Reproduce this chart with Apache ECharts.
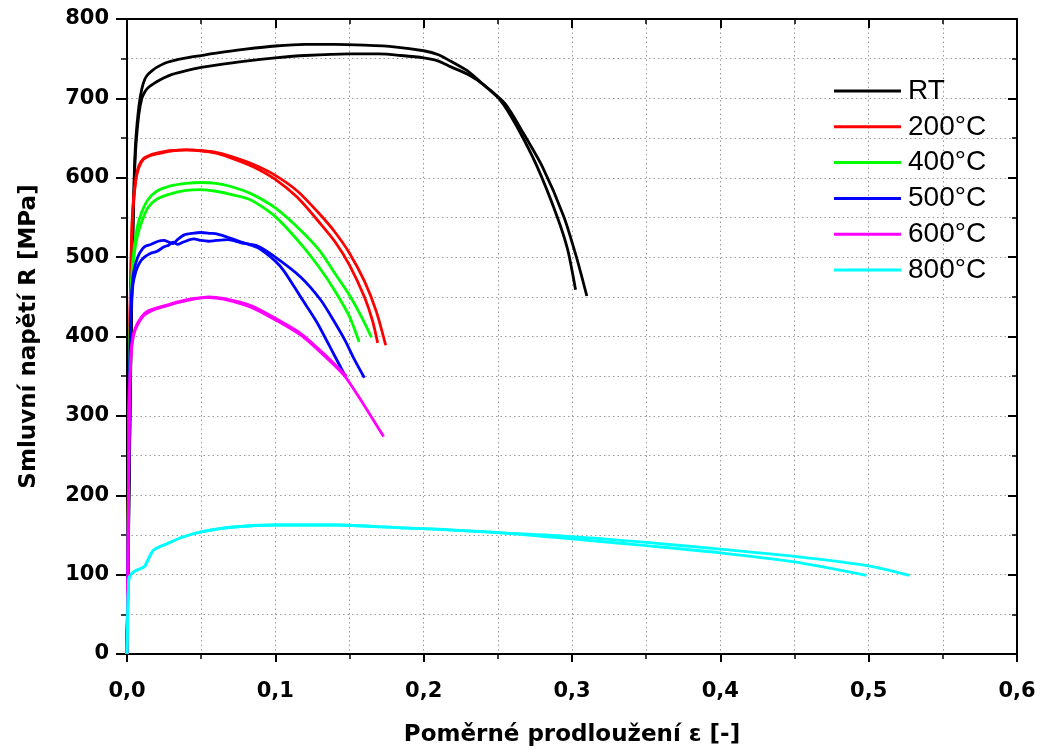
<!DOCTYPE html>
<html>
<head>
<meta charset="utf-8">
<script src="https://cdn.jsdelivr.net/npm/echarts@6/dist/echarts.min.js"></script>
<style>html,body{margin:0;padding:0;background:#fff}#c{width:1050px;height:753px}</style>
</head>
<body>
<div id="c"></div>
<script>
// ---- data (strain ε [-], stress R [MPa]) ----
const legendNames = ['RT', '200°C', '400°C', '500°C', '600°C', '800°C'];
const xTickLabels = ['0,0', '0,1', '0,2', '0,3', '0,4', '0,5', '0,6'];
const yTickLabels = ['0', '100', '200', '300', '400', '500', '600', '700', '800'];

const rtA_x = [0,0.001,0.002,0.003,0.004,0.005,0.006,0.008,0.010,0.012,0.014,0.017,0.02,0.025,0.03,0.04,0.05,0.06,0.08,0.1,0.12,0.14,0.16,0.18,0.2,0.21,0.218,0.23,0.2405,0.252,0.263,0.2765,0.29,0.297,0.3024];
const rtA_y = [0,150,300,430,540,610,650,690,712,724,730,735,739,744,747,751,754,757,762,766,768,768,767,765,760,755,747,734,717,697,664,614,551,510,459];
const rtB_x = [0,0.001,0.002,0.003,0.004,0.005,0.006,0.008,0.010,0.012,0.0135,0.016,0.02,0.025,0.03,0.04,0.05,0.06,0.08,0.1,0.12,0.15,0.17,0.185,0.2,0.21,0.218,0.23,0.2405,0.255,0.266,0.28,0.2945,0.303,0.310];
const rtB_y = [0,140,290,420,530,600,640,680,700,708,712,716,721,726,730,735,739,742,747,751,754,756,756,754,751,747,740,730,717,693,660,614,551,500,451];

const t200A_x = [0,0.0005,0.001,0.0015,0.002,0.003,0.004,0.006,0.008,0.011,0.016,0.02,0.025,0.03,0.04,0.05,0.06,0.07,0.085,0.1,0.115,0.13,0.14,0.15,0.16,0.1655,0.169];
const t200A_y = [0,100,230,340,430,520,565,600,615,624,629,631,633,634,635,634,631,625,614,598,575,543,520,490,450,420,392];
const t200B_x = [0,0.0005,0.001,0.0015,0.002,0.003,0.004,0.006,0.008,0.011,0.016,0.02,0.025,0.03,0.04,0.05,0.06,0.07,0.085,0.1,0.115,0.13,0.14,0.15,0.16,0.168,0.1744];
const t200B_y = [0,95,220,330,420,512,560,597,613,623,628,630,632,634,635,634,632,627,617,603,583,554,532,505,470,432,389];

const t400A_x = [0,0.0005,0.001,0.0015,0.002,0.003,0.005,0.0072,0.01,0.014,0.02,0.03,0.04,0.05,0.06,0.07,0.0835,0.1,0.117,0.13,0.14,0.15,0.158,0.1648];
const t400A_y = [0,100,220,320,400,470,515,540,557,572,583,590,593,594,593,589,580,562,534,508,480,452,425,399];
const t400B_x = [0,0.0005,0.001,0.0015,0.002,0.003,0.005,0.0072,0.01,0.014,0.02,0.03,0.04,0.05,0.06,0.07,0.0835,0.1,0.117,0.13,0.14,0.15,0.1565];
const t400B_y = [0,95,210,310,390,460,505,528,545,562,573,580,584,585,583,579,572,551,517,486,458,425,393];

const t500A_x = [0,0.0005,0.001,0.0015,0.002,0.0027,0.004,0.006,0.0085,0.0117,0.016,0.021,0.025,0.028,0.031,0.034,0.0386,0.044,0.05,0.056,0.061,0.068,0.077,0.088,0.1,0.106,0.117,0.128,0.1396,0.1464];
const t500A_y = [0,90,200,290,370,440,475,493,505,513,516,520,521,519,517,522,528,530,531,530,529,525,519,512,495,482,450,418,377,353];
const t500B_x = [0,0.0005,0.001,0.0015,0.002,0.0027,0.004,0.006,0.0085,0.0117,0.016,0.02,0.025,0.028,0.031,0.034,0.038,0.045,0.05,0.055,0.06,0.068,0.077,0.088,0.1,0.117,0.1306,0.14,0.147,0.153,0.16];
const t500B_y = [0,80,190,280,360,430,465,482,493,500,505,507,513,515,519,516,519,523,521,520,521,522,518,514,500,475,446,418,395,372,348];

const t600A_x = [0,0.0005,0.001,0.0016,0.0027,0.004,0.0055,0.0072,0.0095,0.0117,0.015,0.02,0.0274,0.035,0.045,0.055,0.065,0.0835,0.1,0.117,0.134,0.1464,0.1576,0.165,0.173];
const t600A_y = [0,90,200,320,380,400,410,417,424,429,433,436,440,444,448,449,447,437,421,402,374,351,320,298,274];
const t600B_x = [0,0.0005,0.001,0.0016,0.0027,0.004,0.0055,0.0072,0.0095,0.0117,0.015,0.02,0.0274,0.035,0.045,0.055,0.065,0.0835,0.1,0.117,0.134,0.148];
const t600B_y = [0,85,190,310,375,397,408,415,422,427,431,435,439,443,447,450,448,439,423,404,376,350];

const t800A_x = [0,0.0003,0.0006,0.001,0.0016,0.005,0.0117,0.014,0.018,0.027,0.0386,0.05,0.072,0.1,0.14,0.185,0.2,0.25,0.3,0.35,0.4,0.45,0.4986];
const t800A_y = [0,30,60,85,97,104,110,118,131,139,148,154,160,162.5,162.5,159,158,153,145,136.5,127.5,116,99];
const t800B_x = [0,0.0003,0.0006,0.001,0.0016,0.005,0.0117,0.014,0.018,0.027,0.0386,0.05,0.072,0.1,0.14,0.185,0.2,0.25,0.3,0.35,0.4,0.45,0.5,0.5276];
const t800B_y = [0,30,60,85,97,104,110,118,131,139,148,154,160,162.5,162.5,159,158,153,148,140.6,132,123,111,99];

const colors = {'RT':'#000000','200°C':'#ff0000','400°C':'#00ff00','500°C':'#0000ff','600°C':'#ff00ff','800°C':'#00ffff'};

const curves = [
  ['RT', rtA_x, rtA_y], ['RT', rtB_x, rtB_y],
  ['200°C', t200A_x, t200A_y], ['200°C', t200B_x, t200B_y],
  ['400°C', t400A_x, t400A_y], ['400°C', t400B_x, t400B_y],
  ['500°C', t500A_x, t500A_y], ['500°C', t500B_x, t500B_y],
  ['600°C', t600A_x, t600A_y], ['600°C', t600B_x, t600B_y],
  ['800°C', t800A_x, t800A_y], ['800°C', t800B_x, t800B_y]
];

const tickFont = {fontFamily:'DejaVu Sans', fontWeight:'bold', fontSize:21, color:'#000'};
const nameFont = {fontFamily:'DejaVu Sans', fontWeight:'bold', fontSize:23, color:'#000'};
const gridLine = {show:true, lineStyle:{color:'#9a9a9a', width:1, type:[1.5,3]}};

const chart = echarts.init(document.getElementById('c'), null, {renderer:'canvas'});
chart.setOption({
  animation:false,
  backgroundColor:'#fff',
  grid:{left:127, right:33, top:19, bottom:99},
  legend:{
    orient:'vertical', left:829, top:72, itemWidth:67, itemHeight:3, icon:'rect', itemGap:7.8,
    data:legendNames,
    textStyle:{fontFamily:'Liberation Sans', fontSize:28, lineHeight:28, color:'#000', padding:[0,0,0,2]}
  },
  xAxis:[
    {type:'value', min:0, max:0.6, interval:0.1, position:'bottom',
     name:'Poměrné prodloužení ε [-]', nameLocation:'middle', nameGap:70, nameTextStyle:nameFont,
     axisLine:{show:true, onZero:false, lineStyle:{color:'#000', width:2}},
     axisTick:{show:true, inside:false, length:8, lineStyle:{color:'#000', width:2}},
     minorTick:{show:true, splitNumber:2, length:5, lineStyle:{color:'#000', width:1.5}},
     splitLine:gridLine, minorSplitLine:gridLine,
     axisLabel:Object.assign({margin:27, formatter:(v)=>xTickLabels[Math.round(v*10)]}, tickFont)},
    {type:'value', min:0, max:0.6, interval:0.1, position:'top',
     axisLine:{show:true, onZero:false, lineStyle:{color:'#000', width:2}},
     axisTick:{show:true, inside:true, length:9, lineStyle:{color:'#000', width:2}},
     minorTick:{show:true, splitNumber:2, length:5, lineStyle:{color:'#000', width:1.5}},
     splitLine:{show:false}, axisLabel:{show:false}}
  ],
  yAxis:[
    {type:'value', min:0, max:800, interval:100, position:'left',
     name:'Smluvní napětí R [MPa]', nameLocation:'middle', nameGap:86, nameRotate:90, nameTextStyle:nameFont,
     axisLine:{show:true, onZero:false, lineStyle:{color:'#000', width:2}},
     axisTick:{show:true, inside:false, length:11, lineStyle:{color:'#000', width:2}},
     minorTick:{show:true, splitNumber:2, length:6, lineStyle:{color:'#000', width:1.5}},
     splitLine:gridLine, minorSplitLine:gridLine,
     axisLabel:Object.assign({margin:18, formatter:(v)=>yTickLabels[Math.round(v/100)]}, tickFont)},
    {type:'value', min:0, max:800, interval:100, position:'right',
     axisLine:{show:true, onZero:false, lineStyle:{color:'#000', width:2}},
     axisTick:{show:true, inside:true, length:9, lineStyle:{color:'#000', width:2}},
     minorTick:{show:true, splitNumber:2, length:5, lineStyle:{color:'#000', width:1.5}},
     splitLine:{show:false}, axisLabel:{show:false}}
  ],
  series: curves.map(([name, xs, ys]) => ({
    name, type:'line', xAxisIndex:0, yAxisIndex:0,
    data: xs.map((x, i) => [x, ys[i]]),
    showSymbol:false, symbol:'none', smooth:0.25,
    lineStyle:{color:colors[name], width:2.8}, itemStyle:{color:colors[name]},
    emphasis:{disabled:true}
  }))
});
</script>
</body>
</html>
